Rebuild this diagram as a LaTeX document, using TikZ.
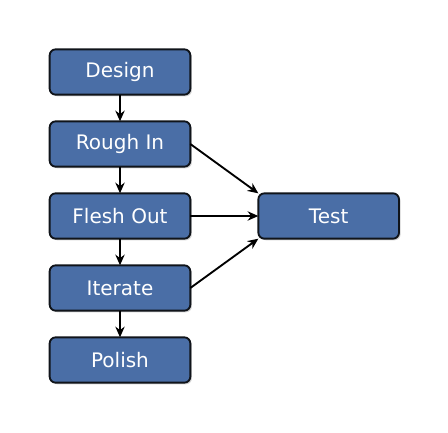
\documentclass[tikz,border=0pt]{standalone}
\usepackage{fontspec}
\setmainfont{DejaVu Sans}
\usetikzlibrary{positioning,arrows.meta,shadows}
\definecolor{boxblue}{HTML}{4A6EA6}
\definecolor{boxline}{HTML}{10141A}

\begin{document}
\begin{tikzpicture}
        \tikzset{stage/.style={draw=boxline,line width=1.4pt,fill=boxblue,rounded corners=4.5pt,
                minimum width=105.5pt,minimum height=34pt,text=white,outer sep=0pt,
                font=\fontsize{15}{18}\selectfont,
                drop shadow={opacity=0.35,shadow xshift=1.2pt,shadow yshift=-1.2pt}},
            flow/.style={-{Stealth[length=8pt,width=7pt]},line width=1.4pt},
            node distance=20pt}
        \useasboundingbox (-90pt,54pt) rectangle (246pt,-270pt);
        \node[stage] (design) {Design};
        \node[stage,below=of design] (roughin) {Rough In};
        \node[stage,below=of roughin] (fleshout) {Flesh Out};
        \node[stage,below=of fleshout] (iterate) {Iterate};
        \node[stage,below=of iterate] (polish) {Polish};
        \node[stage,right=51pt of fleshout] (test) {Test};
        \draw[flow] (design) -- (roughin);
        \draw[flow] (roughin) -- (fleshout);
        \draw[flow] (fleshout) -- (iterate);
        \draw[flow] (iterate) -- (polish);
        \draw[flow] (roughin.east) -- (test.north west);
        \draw[flow] (fleshout) -- (test);
        \draw[flow] (iterate.east) -- (test.south west);
\end{tikzpicture}
\end{document}
